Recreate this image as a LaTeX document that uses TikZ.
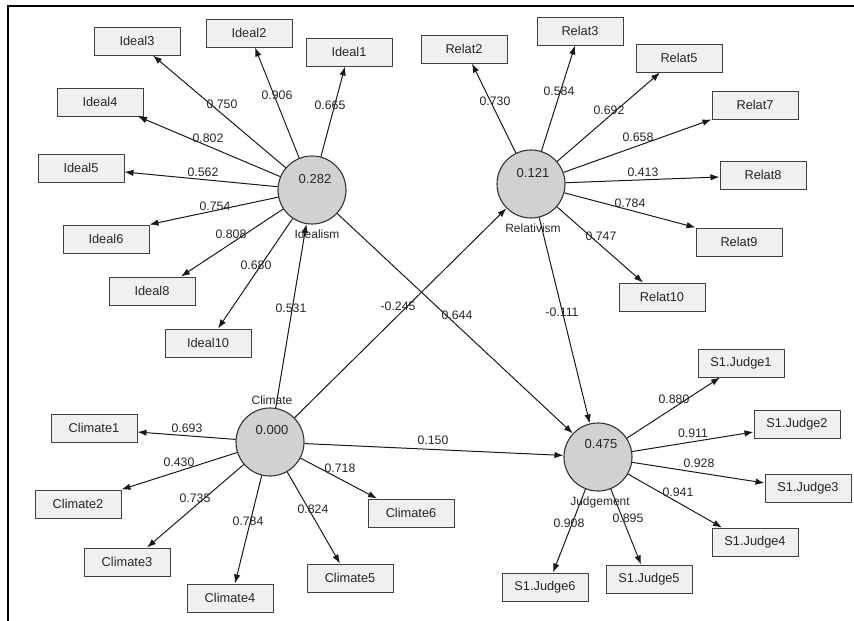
\documentclass[tikz,border=0pt]{standalone}
\usepackage{fontspec}
\setmainfont{Liberation Sans}
\usetikzlibrary{arrows.meta,calc}
\begin{document}
\begin{tikzpicture}[x=1pt,y=-1pt,
  box/.style={draw=black!75, fill=black!6, line width=1pt, minimum width=86pt, minimum height=28pt, inner sep=0pt, font=\fontsize{12.8}{14}\selectfont, text=black!85},
  lv/.style={draw=black!80, fill=black!18, line width=1.1pt, circle, minimum size=68pt, inner sep=0pt},
  val/.style={font=\fontsize{13}{14}\selectfont, text=black!85, inner sep=1pt},
  wt/.style={font=\fontsize{12.3}{14}\selectfont, text=black!85, inner sep=1pt},
  lvname/.style={font=\fontsize{12}{13}\selectfont, text=black!85, inner sep=1pt},
  ar/.style={draw=black!90, line width=1pt, -{Latex[length=9pt,width=6.5pt]}},
  frame/.style={draw=black, line width=2pt}
]
\useasboundingbox (0,0) rectangle (854,621);
\draw[frame] (854,6) -- (8,6) -- (8,621);

% latent variables
\node[lv] (Ideal) at (312,190) {};
\node[lv] (Relat) at (531,184) {};
\node[lv] (Clim) at (270,442) {};
\node[lv] (Judg) at (598,457) {};

% indicators
\node[box] (I3) at (137,41) {Ideal3};
\node[box] (I2) at (249,33) {Ideal2};
\node[box] (I1) at (349,52) {Ideal1};
\node[box] (I4) at (100,102) {Ideal4};
\node[box] (I5) at (81,168) {Ideal5};
\node[box] (I6) at (106,239) {Ideal6};
\node[box] (I8) at (152,291) {Ideal8};
\node[box] (I10) at (208,343) {Ideal10};
\node[box] (R2) at (464,49) {Relat2};
\node[box] (R3) at (580,31) {Relat3};
\node[box] (R5) at (679,58) {Relat5};
\node[box] (R7) at (755,105) {Relat7};
\node[box] (R8) at (763,175) {Relat8};
\node[box] (R9) at (739,242) {Relat9};
\node[box] (R10) at (662,297) {Relat10};
\node[box] (J1) at (741,363) {S1.Judge1};
\node[box] (J2) at (797,424) {S1.Judge2};
\node[box] (J3) at (808,488) {S1.Judge3};
\node[box] (J4) at (755,542) {S1.Judge4};
\node[box] (J5) at (649,579) {S1.Judge5};
\node[box] (J6) at (545,587) {S1.Judge6};
\node[box] (C1) at (94,428) {Climate1};
\node[box] (C2) at (78,504) {Climate2};
\node[box] (C3) at (127,562) {Climate3};
\node[box] (C4) at (230,598) {Climate4};
\node[box] (C5) at (350,578) {Climate5};
\node[box] (C6) at (411,513) {Climate6};

% outer loadings
\draw[ar] (Ideal) -- ($(I3.south)+(16,0)$);
\draw[ar] (Ideal) -- ($(I2.south)+(6,0)$);
\draw[ar] (Ideal) -- ($(I1.south)+(-4,0)$);
\draw[ar] (Ideal) -- ($(I4.south)+(38,0)$);
\draw[ar] (Ideal) -- ($(I5.east)+(0,4)$);
\draw[ar] (Ideal) -- (I6.north east);
\draw[ar] (Ideal) -- ($(I8.north)+(29,0)$);
\draw[ar] (Ideal) -- ($(I10.north)+(10,0)$);

\draw[ar] (Relat) -- ($(R2.south)+(8,0)$);
\draw[ar] (Relat) -- ($(R3.south)+(-5,0)$);
\draw[ar] (Relat) -- ($(R5.south)+(-19,0)$);
\draw[ar] (Relat) -- (R7.south west);
\draw[ar] (Relat) -- ($(R8.west)+(0,2)$);
\draw[ar] (Relat) -- (R9.north west);
\draw[ar] (Relat) -- ($(R10.north)+(-19,0)$);

\draw[ar] (Judg) -- ($(J1.south)+(-21,0)$);
\draw[ar] (Judg) -- ($(J2.west)+(0,8)$);
\draw[ar] (Judg) -- ($(J3.west)+(0,-5)$);
\draw[ar] (Judg) -- ($(J4.north)+(-33,0)$);
\draw[ar] (Judg) -- ($(J5.north)+(-8,0)$);
\draw[ar] (Judg) -- ($(J6.north)+(8,0)$);

\draw[ar] (Clim) -- ($(C1.east)+(0,4)$);
\draw[ar] (Clim) -- (C2.north east);
\draw[ar] (Clim) -- ($(C3.north)+(20,0)$);
\draw[ar] (Clim) -- ($(C4.north)+(5,0)$);
\draw[ar] (Clim) -- ($(C5.north)+(-10,0)$);
\draw[ar] (Clim) -- ($(C6.north)+(-34,0)$);

% structural paths
\draw[ar] (Clim) -- (Ideal);
\draw[ar] (Clim) -- (Relat);
\draw[ar] (Ideal) -- (Judg);
\draw[ar] (Relat) -- (Judg);
\draw[ar] (Clim) -- (Judg);

% circle texts
\node[val] (vI) at (315,179) {0.282};
\node[val] (vR) at (533,173) {0.121};
\node[val] (vC) at (272,430) {0.000};
\node[val] (vJ) at (601,444) {0.475};
\node[lvname] (nI) at (317,234) {Idealism};
\node[lvname] (nR) at (533,228) {Relativism};
\node[lvname] (nC) at (272,400) {Climate};
\node[lvname] (nJ) at (600,502) {Judgement};

% weights
\node[wt] (w1) at (222,104) {0.750};
\node[wt] (w2) at (277,95) {0.906};
\node[wt] (w3) at (330,105) {0.665};
\node[wt] (w4) at (208,138) {0.802};
\node[wt] (w5) at (203,172) {0.562};
\node[wt] (w6) at (215,206) {0.754};
\node[wt] (w7) at (231,234) {0.808};
\node[wt] (w8) at (256,265) {0.680};
\node[wt] (w9) at (291,308) {0.531};
\node[wt] (w10) at (398,306) {-0.245};
\node[wt] (w11) at (457,315) {0.644};
\node[wt] (w12) at (562,312) {-0.111};
\node[wt] (w13) at (433,440) {0.150};

\node[wt] (r1) at (495,101) {0.730};
\node[wt] (r2) at (559,91) {0.584};
\node[wt] (r3) at (609,110) {0.692};
\node[wt] (r4) at (638,137) {0.658};
\node[wt] (r5) at (643,172) {0.413};
\node[wt] (r6) at (630,203) {0.784};
\node[wt] (r7) at (601,236) {0.747};

\node[wt] (c1) at (187,428) {0.693};
\node[wt] (c2) at (179,462) {0.430};
\node[wt] (c3) at (195,498) {0.735};
\node[wt] (c4) at (248,521) {0.784};
\node[wt] (c5) at (313,509) {0.824};
\node[wt] (c6) at (340,468) {0.718};

\node[wt] (j1) at (674,399) {0.880};
\node[wt] (j2) at (693,433) {0.911};
\node[wt] (j3) at (699,463) {0.928};
\node[wt] (j4) at (678,492) {0.941};
\node[wt] (j6) at (569,523) {0.908};
\node[wt] (j5) at (628,518) {0.895};
\end{tikzpicture}
\end{document}
